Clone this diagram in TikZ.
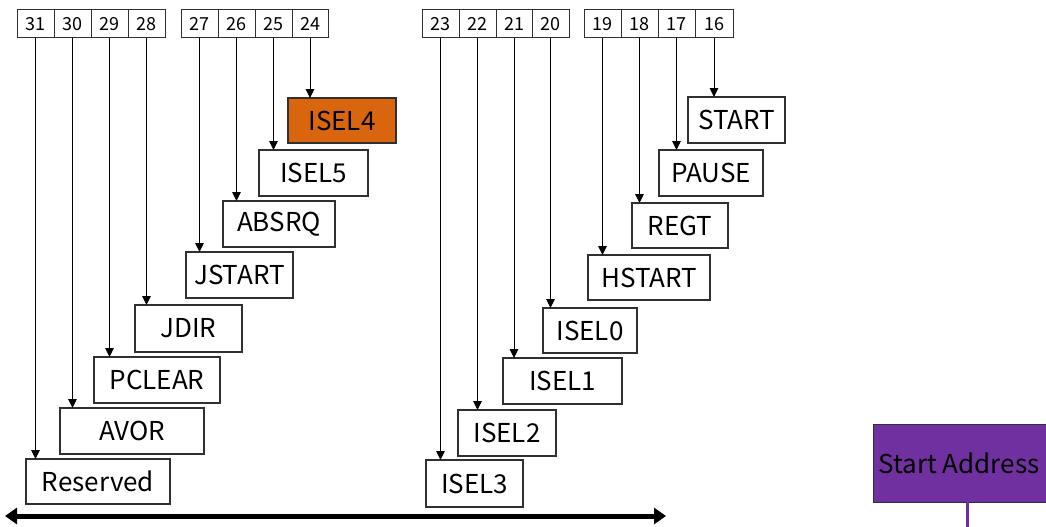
\documentclass[tikz,border=0pt]{standalone}
\usepackage{fontspec}
\setmainfont{Noto Sans CJK KR}
\usetikzlibrary{arrows.meta,calc}
\definecolor{isorange}{HTML}{D9650F}
\definecolor{sapurple}{HTML}{7030A0}
\definecolor{boxline}{HTML}{303030}
\newcommand{\bitcell}[4]{% name, x1, x2, text
  \node[bitbox, minimum width={(#3-#2)*1pt}] (#1) at ({(#2+#3)/2},24) {#4};}
\newcommand{\lblbox}[7][]{% opts, name, x1, x2, y1, y2, text
  \node[lblbox, minimum width={(#4-#3)*1pt}, minimum height={(#6-#5)*1pt}, #1] (#2) at ({(#3+#4)/2},{(#5+#6)/2}) {#7};}
\begin{document}
\begin{tikzpicture}[x=1pt,y=-1pt,
  bitbox/.style={draw=boxline, line width=1pt, inner sep=0pt, outer sep=0pt, minimum height=28pt, font=\fontsize{18}{20}\selectfont},
  lblbox/.style={draw=boxline, line width=1.3pt, inner sep=0pt, outer sep=0pt, fill=white, font=\fontsize{26}{28}\selectfont},
  conn/.style={draw=black, line width=1pt, -{Triangle[length=9pt,width=8.5pt]}},
  bigarrow/.style={draw=black, line width=5pt, {Triangle[length=12pt,width=16pt]}-{Triangle[length=12pt,width=16pt]}}
]
\useasboundingbox (0,0) rectangle (1046,527);
% bit cells
\bitcell{b31}{17}{54}{31}
\bitcell{b30}{54}{91}{30}
\bitcell{b29}{91}{128}{29}
\bitcell{b28}{128}{165}{28}
\bitcell{b27}{181}{218}{27}
\bitcell{b26}{218}{255}{26}
\bitcell{b25}{255}{292}{25}
\bitcell{b24}{292}{328}{24}
\bitcell{b23}{422}{459}{23}
\bitcell{b22}{459}{496}{22}
\bitcell{b21}{496}{532}{21}
\bitcell{b20}{532}{569}{20}
\bitcell{b19}{584}{621}{19}
\bitcell{b18}{621}{658}{18}
\bitcell{b17}{658}{695}{17}
\bitcell{b16}{695}{733}{16}
% label boxes
\lblbox[fill=isorange]{isel4}{288}{396}{98}{143}{ISEL4}
\lblbox{isel5}{259}{368}{150}{196}{ISEL5}
\lblbox{absrq}{223}{335}{201}{247}{ABSRQ}
\lblbox{jstart}{186}{293}{252}{298}{JSTART}
\lblbox{jdir}{135}{242}{305}{352}{JDIR}
\lblbox{pclear}{94}{220}{357}{403}{PCLEAR}
\lblbox{avor}{60}{204}{408}{454}{AVOR}
\lblbox{reserved}{26}{170}{459}{504}{Reserved}
\lblbox{start}{688}{785}{97}{143}{START}
\lblbox{pause}{659}{763}{150}{196}{PAUSE}
\lblbox{regt}{632}{728}{203}{248}{REGT}
\lblbox{hstart}{588}{710}{255}{300}{HSTART}
\lblbox{isel0}{543}{637}{308}{353}{ISEL0}
\lblbox{isel1}{503}{622}{358}{404}{ISEL1}
\lblbox{isel2}{458}{556}{410}{456}{ISEL2}
\lblbox{isel3}{426}{523}{460}{507}{ISEL3}
% connectors
\foreach \b/\t in {b31/reserved,b30/avor,b29/pclear,b28/jdir,b27/jstart,b26/absrq,b25/isel5,b24/isel4,
                   b23/isel3,b22/isel2,b21/isel1,b20/isel0,b19/hstart,b18/regt,b17/pause,b16/start}
  \draw[conn] (\b.south) -- (\b.south |- \t.north);
% big double arrow
\coordinate (axL) at (5,516);
\coordinate (axR) at (666,516);
\draw[bigarrow] (axL) -- (axR);
% start address
\lblbox[fill=sapurple, line width=1pt]{saddr}{873}{1061}{424}{502}{\hspace*{-16pt}Start Address}
\coordinate (saend) at (967,530);
\draw[draw=sapurple, line width=3pt] (saddr.south -| saend) -- (saend);
\end{tikzpicture}
\end{document}
